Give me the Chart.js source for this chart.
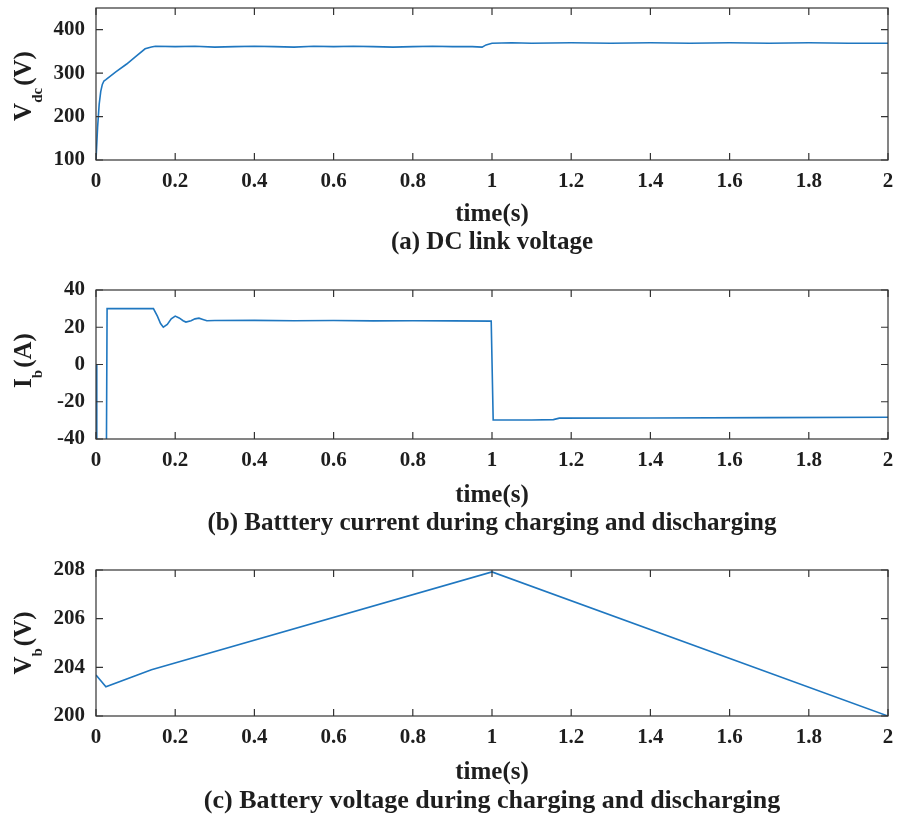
<!DOCTYPE html>
<html>
<head>
<meta charset="utf-8">
<script src="https://cdn.jsdelivr.net/npm/chart.js@4.4.0/dist/chart.umd.min.js"></script>
<style>
  body { margin: 0; background: #fff; }
  #wrap { position: relative; width: 897px; height: 819px; }
  #wrap canvas { position: absolute; left: 0; }
</style>
</head>
<body>
<div id="wrap">
  <canvas id="cA" width="897" height="270" style="top:0px"></canvas>
  <canvas id="cB" width="897" height="278" style="top:270px"></canvas>
  <canvas id="cC" width="897" height="271" style="top:548px"></canvas>
</div>
<script>
// shared time axis
const xTicks = [0, 0.2, 0.4, 0.6, 0.8, 1, 1.2, 1.4, 1.6, 1.8, 2];

// (a) DC link voltage
const tA   = [0, 0.004, 0.008, 0.012, 0.016, 0.02, 0.025, 0.05, 0.0775, 0.1, 0.124, 0.14, 0.15,
              0.2, 0.25, 0.3, 0.35, 0.4, 0.45, 0.5, 0.55, 0.6, 0.65, 0.7, 0.75, 0.8, 0.85, 0.9, 0.95, 0.975,
              0.985, 1.0, 1.05, 1.1, 1.2, 1.3, 1.4, 1.5, 1.6, 1.7, 1.8, 1.9, 2.0];
const vdc  = [100, 175, 228, 258, 274, 282, 285, 303, 321, 338, 356, 360, 362,
              361, 362, 360, 361, 362, 361, 360, 362, 361, 362, 361, 360, 361, 362, 361, 361, 360,
              365, 369, 370, 369, 370, 369, 370, 369, 370, 369, 370, 369, 369];
const yTicksA = [100, 200, 300, 400];

// (b) battery current
const tB = [0, 0.002, 0.026, 0.028, 0.145, 0.155, 0.163, 0.17, 0.18, 0.19, 0.2, 0.21, 0.22, 0.227,
            0.24, 0.25, 0.26, 0.27, 0.28, 0.3, 0.4, 0.5, 0.6, 0.7, 0.8, 0.9, 0.998,
            1.003, 1.1, 1.155, 1.17, 1.4, 1.7, 2.0];
const ib = [0, -60, -60, 30, 30, 26, 22, 20, 21.5, 24.5, 26, 25, 23.5, 22.8,
            23.5, 24.5, 24.9, 24.2, 23.5, 23.6, 23.7, 23.5, 23.6, 23.4, 23.5, 23.4, 23.3,
            -29.8, -29.8, -29.6, -28.8, -28.7, -28.5, -28.3];
const yTicksB = [-40, -20, 0, 20, 40];

// (c) battery voltage
const tC = [0, 0.025, 0.14, 1.0, 2.0];
const vb = [203.68, 203.2, 203.9, 207.92, 202];
const yTicksC = [202, 204, 206, 208];
const yTickLabelsC = ['200', '204', '206', '208'];

const SERIF = "'Liberation Serif', 'Times New Roman', serif";
const INK = '#1e1e1e';
const LINE = '#1f77c0';
const TEXT_SIZE = 25;

// closed box with short inward ticks on all four sides
const boxTicks = {
  id: 'boxTicks',
  afterDatasetsDraw(chart) {
    const { ctx, chartArea: a, scales: { x, y } } = chart;
    const len = 7;
    ctx.save();
    ctx.strokeStyle = '#333';
    ctx.lineWidth = 1.2;
    ctx.beginPath();
    x.ticks.forEach(t => {
      const px = x.getPixelForValue(t.value);
      ctx.moveTo(px, a.bottom); ctx.lineTo(px, a.bottom - len);
      ctx.moveTo(px, a.top); ctx.lineTo(px, a.top + len);
    });
    y.ticks.forEach(t => {
      const py = y.getPixelForValue(t.value);
      ctx.moveTo(a.left, py); ctx.lineTo(a.left + len, py);
      ctx.moveTo(a.right, py); ctx.lineTo(a.right - len, py);
    });
    ctx.stroke();
    ctx.strokeRect(a.left, a.top, a.right - a.left, a.bottom - a.top);
    ctx.restore();
  }
};

// rotated y-axis title with a subscript (V_dc, I_b, ...)
const yTitle = {
  id: 'yTitle',
  afterDraw(chart, args, o) {
    const { ctx, chartArea: a } = chart;
    const big = `bold ${o.size}px ${SERIF}`;
    const small = `bold ${o.subSize}px ${SERIF}`;
    ctx.save();
    ctx.font = big;
    const w1 = ctx.measureText(o.main).width;
    const w3 = ctx.measureText(o.unit).width;
    ctx.font = small;
    const w2 = ctx.measureText(o.sub).width;
    const total = w1 + w2 + w3 + 2;
    ctx.translate(o.x, (a.top + a.bottom) / 2 + (o.dy || 0));
    ctx.rotate(-Math.PI / 2);
    ctx.fillStyle = INK;
    ctx.textBaseline = 'alphabetic';
    ctx.textAlign = 'left';
    const base = o.size * 0.33;
    let cx = -total / 2;
    ctx.font = big;
    ctx.fillText(o.main, cx, base);
    cx += w1;
    ctx.font = small;
    ctx.fillText(o.sub, cx, base + o.subShift);
    cx += w2 + 2;
    ctx.font = big;
    ctx.fillText(o.unit, cx, base);
    ctx.restore();
  }
};

function makePanel(id, p) {
  const capH = p.capSize;
  const capTop = p.capY - capH / 2;
  return new Chart(document.getElementById(id), {
    type: 'line',
    data: {
      datasets: [{
        data: p.t.map((t, i) => ({ x: t, y: p.v[i] })),
        borderColor: LINE,
        borderWidth: 1.6,
        pointRadius: 0,
        tension: 0,
        fill: false
      }]
    },
    options: {
      responsive: false,
      animation: false,
      events: [],
      layout: { padding: { top: p.plotTop, right: 9, left: 0, bottom: p.canvasH - capTop - capH } },
      plugins: {
        legend: { display: false },
        tooltip: { enabled: false },
        title: {
          display: true,
          position: 'bottom',
          fullSize: false,
          text: p.caption,
          color: INK,
          font: { family: SERIF, size: p.capSize, weight: 'bold', lineHeight: 1 },
          padding: { top: 0, bottom: 0 }
        },
        yTitle: p.yTitle
      },
      scales: {
        x: {
          type: 'linear',
          min: 0, max: 2,
          grid: { display: false, drawTicks: false },
          border: { display: false },
          afterBuildTicks: s => { s.ticks = xTicks.map(v => ({ value: v })); },
          afterFit: s => {
            s.height = capTop - p.plotBottom;
            s.paddingLeft = 0; s.paddingRight = 0;
          },
          ticks: {
            color: INK,
            padding: 9,
            maxRotation: 0,
            autoSkip: false,
            font: { family: SERIF, size: 21, weight: 'bold' },
            callback: v => String(Math.round(v * 10) / 10)
          },
          title: {
            display: true,
            text: 'time(s)',
            color: INK,
            font: { family: SERIF, size: TEXT_SIZE, weight: 'bold', lineHeight: 1 },
            padding: { top: 0, bottom: 3 }
          }
        },
        y: {
          type: 'linear',
          min: p.yMin, max: p.yMax,
          grid: { display: false, drawTicks: false },
          border: { display: false },
          afterBuildTicks: s => { s.ticks = p.yTicks.map(v => ({ value: v })); },
          afterFit: s => {
            s.width = 96;
            s.paddingTop = 0; s.paddingBottom = 0;
          },
          ticks: {
            color: INK,
            padding: 11,
            autoSkip: false,
            font: { family: SERIF, size: 21, weight: 'bold' },
            callback: p.yLabel || (v => String(v))
          }
        }
      }
    },
    plugins: [boxTicks, yTitle]
  });
}

makePanel('cA', {
  t: tA, v: vdc, yMin: 100, yMax: 450, yTicks: yTicksA,
  canvasH: 270, plotTop: 8, plotBottom: 160, capY: 243, capSize: TEXT_SIZE,
  caption: '(a) DC link voltage',
  yTitle: { main: 'V', sub: 'dc', unit: '(V)', x: 23, size: 25, subSize: 15, subShift: 11, dy: 2 }
});

makePanel('cB', {
  t: tB, v: ib, yMin: -40, yMax: 40, yTicks: yTicksB,
  canvasH: 278, plotTop: 20, plotBottom: 169, capY: 254, capSize: TEXT_SIZE,
  caption: '(b) Batttery current during charging and discharging',
  yTitle: { main: 'I', sub: 'b', unit: '(A)', x: 23, size: 25, subSize: 15, subShift: 11, dy: -4 }
});

makePanel('cC', {
  t: tC, v: vb, yMin: 202, yMax: 208, yTicks: yTicksC,
  canvasH: 271, plotTop: 22, plotBottom: 168, capY: 253, capSize: 26,
  caption: '(c) Battery voltage during charging and discharging',
  yLabel: v => yTickLabelsC[yTicksC.indexOf(v)],
  yTitle: { main: 'V', sub: 'b', unit: '(V)', x: 23, size: 25, subSize: 15, subShift: 11, dy: 0 }
});
</script>
</body>
</html>
